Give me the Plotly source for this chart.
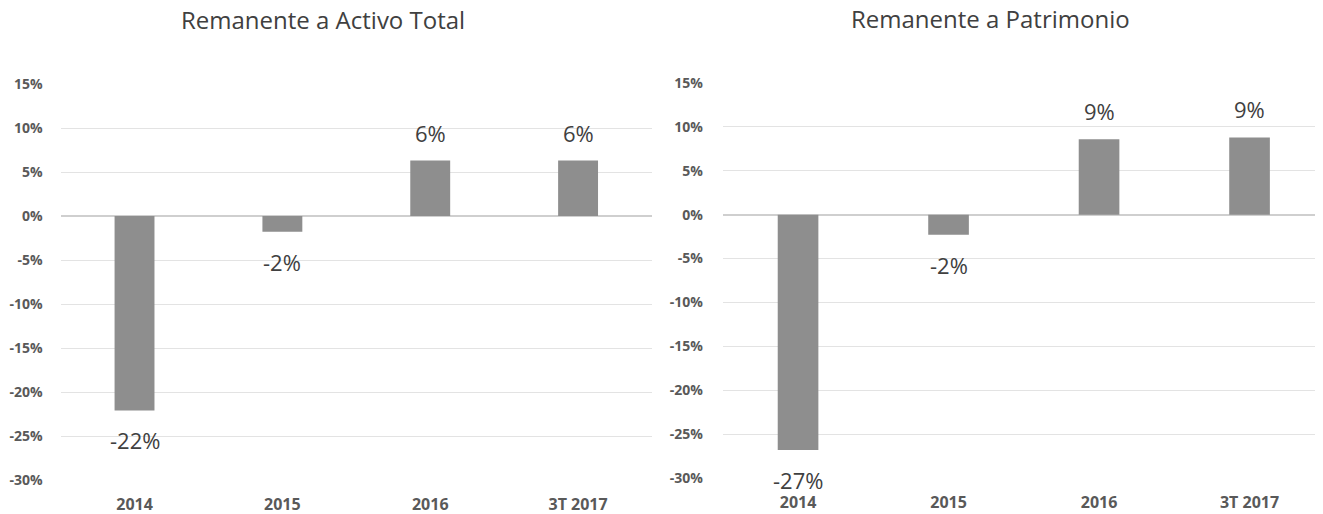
import plotly.graph_objects as go

categories = ["2014", "2015", "2016", "3T 2017"]
activo_values = [-0.221, -0.018, 0.063, 0.063]
patrimonio_values = [-0.268, -0.023, 0.086, 0.088]
tick_values = [0.15, 0.10, 0.05, 0.0, -0.05, -0.10, -0.15, -0.20, -0.25, -0.30]
tick_labels = ["15%", "10%", "5%", "0%", "-5%", "-10%", "-15%", "-20%", "-25%", "-30%"]
titles = ["Remanente a Activo Total", "Remanente a Patrimonio"]

W, H = 1323, 514
OFF = 8  # page body offset
FONT = "Open Sans"
BAR = "#8e8e8e"
GRID = "#e3e3e3"
TXT = "#404040"

def px(x):
    return (x - OFF) / W

def py(y):
    return 1 - (y - OFF) / H

xpos = list(range(len(categories)))

fig = go.Figure()

fig.add_trace(go.Bar(x=xpos, y=activo_values, xaxis="x", yaxis="y",
                     marker=dict(color=BAR, line=dict(width=0)), width=0.27,
                     hoverinfo="skip", showlegend=False))
fig.add_trace(go.Bar(x=xpos, y=patrimonio_values, xaxis="x2", yaxis="y2",
                     marker=dict(color=BAR, line=dict(width=0)), width=0.27,
                     hoverinfo="skip", showlegend=False))

def lbl(v):
    return f"{round(v * 100):.0f}%"

annotations = []
for xa, ya, vals in (("x", "y", activo_values), ("x2", "y2", patrimonio_values)):
    for i, v in zip(xpos, vals):
        annotations.append(dict(x=i, y=v, xref=xa, yref=ya, text=lbl(v),
                                showarrow=False, yanchor="middle",
                                yshift=28 if v >= 0 else -30,
                                font=dict(family=FONT, size=22, color=TXT)))

annotations.append(dict(x=px(323), y=py(19), xref="paper", yref="paper",
                        text=titles[0], showarrow=False, xanchor="center", yanchor="middle",
                        font=dict(family=FONT, size=24, color="#404040")))
annotations.append(dict(x=px(990), y=py(18), xref="paper", yref="paper",
                        text=titles[1], showarrow=False, xanchor="center", yanchor="middle",
                        font=dict(family=FONT, size=24, color="#404040")))

xcommon = dict(range=[-0.5, len(categories) - 0.5], tickvals=xpos, ticktext=categories,
               showgrid=False, zeroline=False, showline=False, automargin=False,
               ticks="", tickfont=dict(family=FONT, size=16, color="#595959", weight="bold"),
               ticklabelstandoff=13, fixedrange=True)
ycommon = dict(range=[-0.30, 0.15], tickvals=tick_values, ticktext=tick_labels,
               showgrid=True, gridcolor=GRID, gridwidth=1, automargin=False,
               zeroline=True, zerolinecolor="#cfcfcf", zerolinewidth=1.5,
               showline=False, ticks="",
               tickfont=dict(family=FONT, size=14, color="#595959", weight="bold"),
               fixedrange=True)

fig.update_layout(
    width=W, height=H,
    margin=dict(l=0, r=0, t=0, b=0, pad=0),
    paper_bgcolor="white", plot_bgcolor="white",
    xaxis=dict(domain=[px(60.6), px(652)], anchor="y", **xcommon),
    yaxis=dict(domain=[py(480), py(84)], anchor="x", ticklabelstandoff=17, **ycommon),
    xaxis2=dict(domain=[px(722.8), min(1.0, px(1324.8))], anchor="y2", **xcommon),
    yaxis2=dict(domain=[py(478), py(83)], anchor="x2", ticklabelstandoff=19, **ycommon),
    annotations=annotations,
)

fig.write_html("out.html")
